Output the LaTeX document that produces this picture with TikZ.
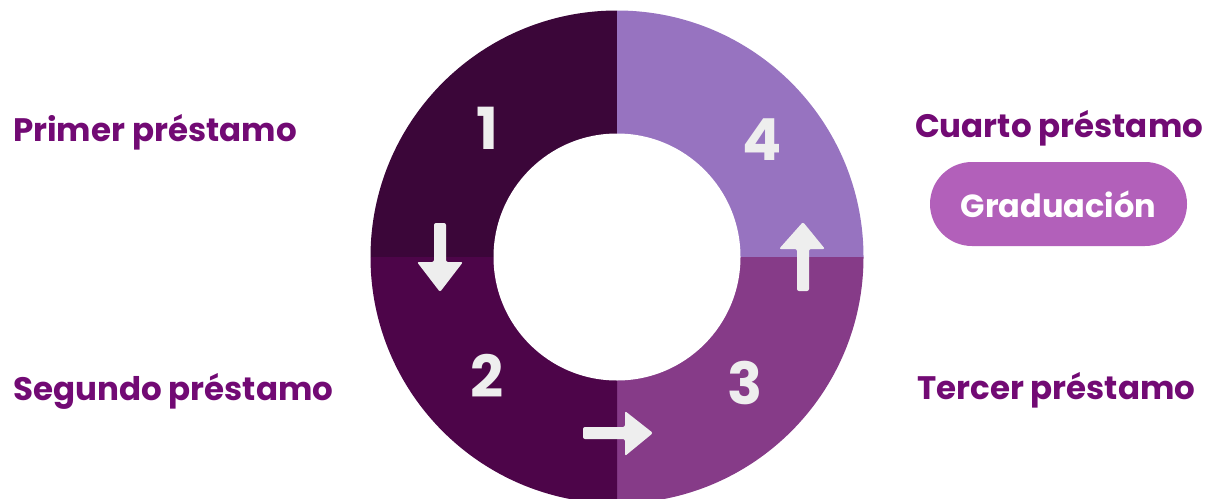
\documentclass[tikz,border=0pt]{standalone}
\usepackage{fontspec}
\setmainfont{Poppins}
\definecolor{qone}{HTML}{3B0639}
\definecolor{qtwo}{HTML}{4D0549}
\definecolor{qthree}{HTML}{863B88}
\definecolor{qfour}{HTML}{9773C0}
\definecolor{labelc}{HTML}{720A74}
\definecolor{pillc}{HTML}{B260BA}
\definecolor{arrowc}{HTML}{EEEEEE}
\begin{document}
\begin{tikzpicture}[x=1pt,y=-1pt,
  lbl/.style={font=\bfseries\fontsize{32.5}{32.5}\selectfont, text=labelc, inner sep=0pt, anchor=base west},
  num/.style={font=\bfseries\fontsize{58}{58}\selectfont, text=arrowc, inner sep=0pt},
  arr/.style={fill=arrowc, rounded corners=2pt}]
\useasboundingbox (0,0) rectangle (1210,498);
\begin{scope}
\clip (0,0) rectangle (1210,498);
\coordinate (c) at (617,257);
\fill[qone] (c) -- +(180:246.5) arc[start angle=180,end angle=270,radius=246.5] -- cycle;
\fill[qfour] (c) -- +(270:246.5) arc[start angle=270,end angle=360,radius=246.5] -- cycle;
\fill[qthree] (c) -- +(0:246.5) arc[start angle=0,end angle=90,radius=246.5] -- cycle;
\fill[qtwo] (c) -- +(90:246.5) arc[start angle=90,end angle=180,radius=246.5] -- cycle;
\fill[white] (c) circle[radius=123.5];
\end{scope}
\node[num] (n1) at (487,128) {1};
\node[num] (n2) at (487,376) {2};
\node[num] (n3) at (745,383) {3};
\node[num] (n4) at (762,140) {4};
% arrows
\fill[arr] (434,223) -- (446,223) -- (446,262) -- (463,262) -- (440,292) -- (417,262) -- (434,262) -- cycle;
\fill[arr] (797,291) -- (809,291) -- (809,249) -- (825,249) -- (803,222) -- (779,249) -- (797,249) -- cycle;
\fill[arr] (583,427) -- (625,427) -- (625,411) -- (653,433) -- (625,456) -- (625,439) -- (583,439) -- cycle;
% labels
\node[lbl] (l1) at (13,141) {Primer préstamo};
\node[lbl] (l2) at (13,400) {Segundo préstamo};
\node[lbl] (l3) at (917,399) {Tercer préstamo};
\node[lbl] (l4) at (915,137) {Cuarto préstamo};
\node[fill=pillc, rounded corners=42pt, minimum width=257pt, minimum height=84pt, inner sep=0pt,
  text=white, font=\bfseries\fontsize{32}{32}\selectfont] (grad) at (1058.5,204) {Graduación};
\end{tikzpicture}
\end{document}
